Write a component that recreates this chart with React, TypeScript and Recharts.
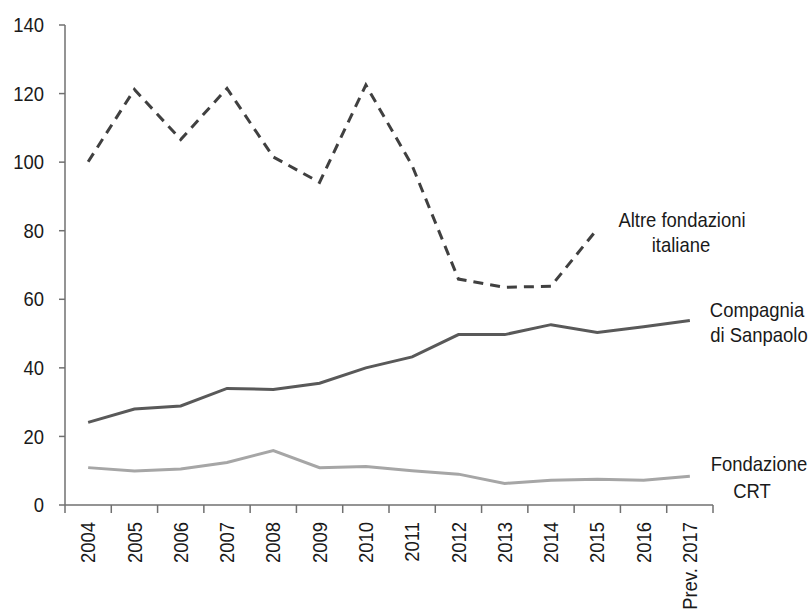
import React from 'react';
import { LineChart, Line, XAxis, YAxis } from 'recharts';

const years = ['2004', '2005', '2006', '2007', '2008', '2009', '2010', '2011', '2012', '2013', '2014', '2015', '2016', 'Prev. 2017'];
const altre: (number | null)[] = [100.1, 121.2, 106.6, 121.5, 101.5, 94.1, 122.5, 99, 65.9, 63.5, 63.8, 80.5, null, null];
const compagnia = [24.1, 28.0, 28.9, 34.0, 33.7, 35.5, 40.0, 43.2, 49.7, 49.7, 52.6, 50.3, 52.0, 53.8];
const crt = [10.9, 9.9, 10.5, 12.4, 15.9, 10.9, 11.2, 10.0, 9.0, 6.3, 7.2, 7.5, 7.2, 8.4];
const yTicks = [0, 20, 40, 60, 80, 100, 120, 140];

const data = years.map((y, i) => ({ idx: i, year: y, altre: altre[i], compagnia: compagnia[i], crt: crt[i] }));
const xTicks: number[] = [];
for (let i = -0.5; i <= years.length - 0.5; i += 0.5) xTicks.push(i);

const FONT = '"Liberation Sans", Arial, sans-serif';
const FS = 20.5;
const SX = 0.9;
const AXIS = '#707070';
const TXT = '#1a1a1a';

const XTick = (props: any) => {
  const { x, y, payload } = props;
  const v = payload.value;
  if (Math.abs(v - Math.round(v)) > 0.01) {
    return <line x1={x} y1={y} x2={x} y2={y + 8} stroke={AXIS} strokeWidth={1.5} />;
  }
  const label = years[Math.round(v)];
  return (
    <text
      transform={`translate(${x}, ${y + 17}) rotate(-90) scale(${SX}, 1)`}
      textAnchor="end"
      dy="0.35em"
      fontFamily={FONT}
      fontSize={FS}
      fill={TXT}
    >
      {label}
    </text>
  );
};

const YTick = (props: any) => {
  const { x, y, payload } = props;
  return (
    <text
      transform={`translate(${x}, ${y}) scale(${SX}, 1)`}
      textAnchor="end"
      dy="0.35em"
      fontFamily={FONT}
      fontSize={FS}
      fill={TXT}
    >
      {payload.value}
    </text>
  );
};

const annotations = [
  { text: 'Altre fondazioni', x: 682, y: 226.7 },
  { text: 'italiane', x: 681, y: 251.7 },
  { text: 'Compagnia', x: 757, y: 316.7 },
  { text: 'di Sanpaolo', x: 759, y: 341.5 },
  { text: 'Fondazione', x: 759, y: 470.7 },
  { text: 'CRT', x: 752, y: 498 },
];

export default function App() {
  return (
    <div style={{ position: 'absolute', left: 0, top: 0, width: 810, height: 609, background: '#fff', overflow: 'hidden' }}>
      <LineChart width={810} height={609} data={data} margin={{ top: 25, right: 97, bottom: 0, left: 10 }}>
        <XAxis
          dataKey="idx"
          type="number"
          domain={[-0.5, years.length - 0.5]}
          ticks={xTicks}
          interval={0}
          tickLine={false}
          tickSize={0}
          tickMargin={0}
          height={104}
          stroke={AXIS}
          strokeWidth={1.5}
          tick={<XTick />}
        />
        <YAxis
          domain={[0, 140]}
          ticks={yTicks}
          interval={0}
          width={55}
          tickSize={6}
          tickMargin={15}
          stroke={AXIS}
          strokeWidth={1.5}
          tick={<YTick />}
        />
        <Line dataKey="crt" type="linear" stroke="#a6a6a6" strokeWidth={3} dot={false} isAnimationActive={false} />
        <Line dataKey="compagnia" type="linear" stroke="#595959" strokeWidth={3} dot={false} isAnimationActive={false} />
        <Line dataKey="altre" type="linear" stroke="#404040" strokeWidth={3} strokeDasharray="10 7" dot={false} isAnimationActive={false} />
      </LineChart>
      <svg width={810} height={609} style={{ position: 'absolute', left: 0, top: 0, pointerEvents: 'none' }}>
        {annotations.map((a) => (
          <text
            key={a.text}
            transform={`translate(${a.x}, ${a.y}) scale(${SX}, 1)`}
            textAnchor="middle"
            fontFamily={FONT}
            fontSize={FS}
            fill={TXT}
          >
            {a.text}
          </text>
        ))}
      </svg>
    </div>
  );
}
